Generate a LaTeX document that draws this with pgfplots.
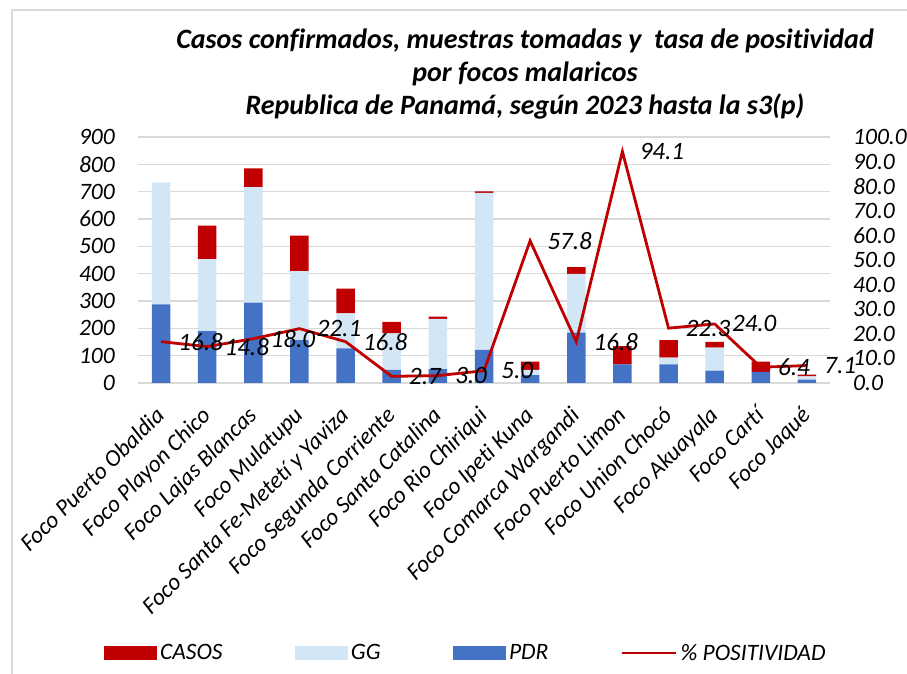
\documentclass[border=0pt]{standalone}
\usepackage{fontspec}
\setmainfont{Carlito}[Ligatures={NoCommon}]
\usepackage{pgfplots}
\usepackage{pgfplotstable}
\pgfplotsset{compat=1.18}
\definecolor{casos}{HTML}{C00000}
\definecolor{gg}{HTML}{D2E6F5}
\definecolor{pdr}{HTML}{4472C4}
\definecolor{gridgray}{HTML}{D9D9D9}

% x, PDR, GG, CASOS, % positividad
\pgfplotstableread{
x pdr gg casos pos
0 288 446 0 16.8
1 190 263 123 14.8
2 294 423 68 18.0
3 157 252 130 22.1
4 127 128 90 16.8
5 48 134 42 2.7
6 51 184 8 3.0
7 121 575 5 5.0
8 29 19 30 57.8
9 184 215 25 16.8
10 68 0 67 94.1
11 68 25 64 22.3
12 45 84 21 24.0
13 41 0 37 6.4
14 12 12 7 7.1
}\datos

\newcommand{\lblfont}{\itshape\fontsize{23.5}{28}\selectfont}
\newcommand{\datfont}{\itshape\fontsize{25}{30}\selectfont}

\begin{document}
\begin{tikzpicture}
\useasboundingbox (0pt,0pt) rectangle (907pt,674pt);
\draw[gridgray, line width=1.5pt] (12pt,0pt) -- (12pt,664pt) -- (907pt,664pt);

\node[align=center, font=\bfseries\itshape\fontsize{28}{33}\selectfont] at (525pt,600pt)
  {Casos confirmados, muestras tomadas y \ tasa de positividad\\
   por focos malaricos\\
   Republica de Panamá, según 2023 hasta la s3(p)};

\begin{axis}[
  at={(138pt,291pt)}, anchor=south west,
  scale only axis, width=692pt, height=246pt,
  xmin=-0.5, xmax=14.5, ymin=0, ymax=900,
  ybar stacked, bar width=18.5pt,
  axis y line*=left, axis x line*=bottom,
  y axis line style={draw=none},
  x axis line style={gridgray, line width=1.5pt},
  ytick={0,100,...,900},
  ymajorgrids, grid style={gridgray, line width=1.3pt},
  major tick length=0pt,
  xtick={0,...,14},
  xticklabels={Foco Puerto Obaldia, Foco Playon Chico, Foco Lajas Blancas,
    Foco Mulatupu, Foco Santa Fe-Metetí y Yaviza, Foco Segunda Corriente,
    Foco Santa Catalina, Foco Rio Chiriqui, Foco Ipeti Kuna,
    Foco Comarca Wargandi, Foco Puerto Limon, Foco Union Chocó,
    Foco Akuayala, Foco Cartí, Foco Jaqué},
  xticklabel style={rotate=45, anchor=north east, inner sep=0pt,
    font=\lblfont, xshift=-20.5pt, yshift=-10.6pt},
  yticklabel style={font=\lblfont, anchor=east, inner sep=0pt, xshift=-23pt},
  /pgf/number format/assume math mode=true,
]
\addplot[fill=pdr, draw=none] table[x=x, y=pdr]{\datos};
\addplot[fill=gg, draw=none] table[x=x, y=gg]{\datos};
\addplot[fill=casos, draw=none] table[x=x, y=casos]{\datos};
\end{axis}

\begin{axis}[
  at={(138pt,291pt)}, anchor=south west,
  scale only axis, width=692pt, height=246pt,
  xmin=-0.5, xmax=14.5, ymin=0, ymax=100,
  axis y line*=right, axis x line=none,
  y axis line style={draw=none},
  major tick length=0pt,
  ytick={0,10,...,100},
  yticklabel style={font=\lblfont, anchor=west, inner sep=0pt, xshift=23pt,
    /pgf/number format/.cd, fixed, fixed zerofill, precision=1},
  /pgf/number format/assume math mode=true,
  clip=false,
  legend columns=4,
  legend style={at={(-0.0535,-1.0976)}, anchor=west, draw=none, fill=none,
    font=\lblfont, /tikz/every even column/.append style={column sep=69pt},
    nodes={inner xsep=3.5pt}},
  legend entries={CASOS, GG, PDR, \% POSITIVIDAD},
]
\addlegendimage{legend image code/.code={\fill[casos] (0pt,-6.5pt) rectangle (52pt,6.5pt);}}
\addlegendimage{legend image code/.code={\fill[gg] (0pt,-6.5pt) rectangle (52pt,6.5pt);}}
\addlegendimage{legend image code/.code={\fill[pdr] (0pt,-6.5pt) rectangle (52pt,6.5pt);}}
\addplot[casos, line width=2.8pt, mark=none,
  legend image code/.code={\draw[casos, line width=2.2pt] (0pt,0pt) -- (54pt,0pt);},
  point meta=explicit,
  nodes near coords={\pgfmathprintnumber[fixed, fixed zerofill, precision=1]{\pgfplotspointmeta}},
  nodes near coords align={horizontal},
  every node near coord/.append style={font=\datfont, text=black, inner sep=0pt, xshift=16pt, anchor=west},
] table[x=x, y=pos, meta=pos]{\datos};
\end{axis}
\end{tikzpicture}
\end{document}
